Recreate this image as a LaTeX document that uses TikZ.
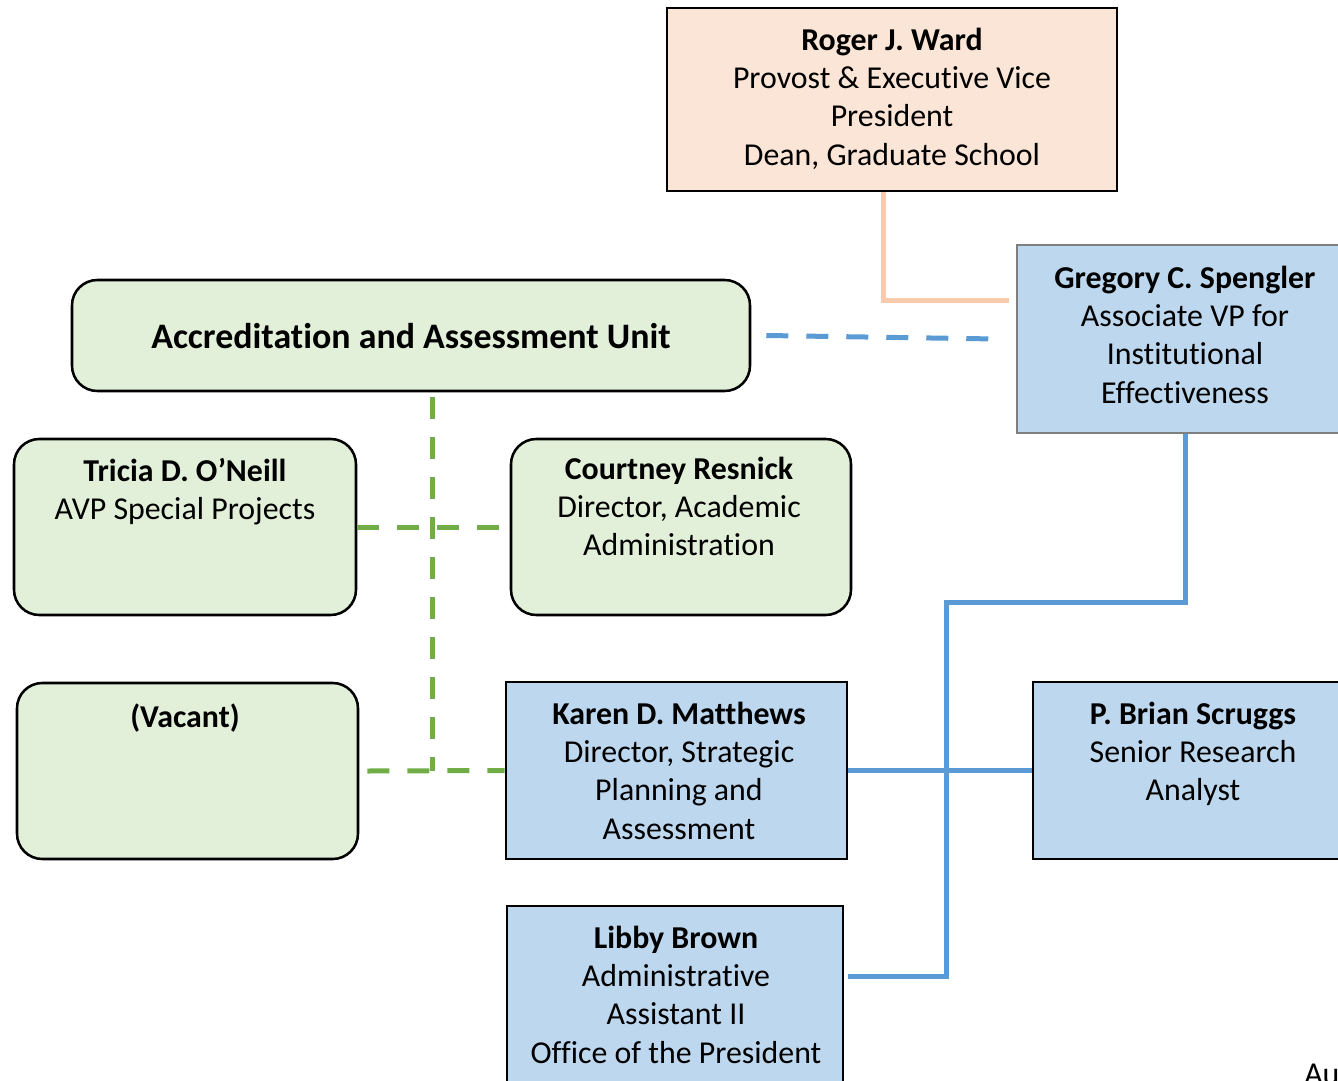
\documentclass[tikz,border=0pt]{standalone}
\usepackage{fontspec}
\setmainfont[Ligatures=NoCommon]{Carlito}
\usepackage{tikz}
\usetikzlibrary{positioning}

\definecolor{peachfill}{HTML}{FBE5D6}
\definecolor{peachline}{HTML}{F8CBAD}
\definecolor{bluefill}{HTML}{BDD7EE}
\definecolor{blueline}{HTML}{5B9BD5}
\definecolor{greenfill}{HTML}{E2F0D9}
\definecolor{greenline}{HTML}{70AD47}
\definecolor{grayline}{HTML}{7F7F7F}

\tikzset{
    box/.style={draw=black, line width=1.9pt, inner sep=0pt},
    peachbox/.style={box, fill=peachfill},
    bluebox/.style={box, fill=bluefill},
    greenbox/.style={box, fill=greenfill, rounded corners=19pt},
    txt/.style={inner sep=0pt, align=center, anchor=north,
        font=\fontsize{23.9pt}{28.6pt}\selectfont},
    solidlink/.style={line width=3.75pt},
    dashlink/.style={line width=3.75pt, dash pattern=on 16.5pt off 13.5pt},
}

\begin{document}
\begin{tikzpicture}[x=0.75pt, y=-0.75pt]

        \useasboundingbox (0,0) rectangle (1338,1081);
        \clip (0,0) rectangle (1338,1081);

        % boxes
        \node[peachbox, minimum width=337.5pt, minimum height=137.25pt] (ward) at (892,99.5) {};
        \node[bluebox, draw=grayline, minimum width=252pt, minimum height=141pt] (spengler) at (1185,339) {};
        \node[greenbox, minimum width=508.5pt, minimum height=83.25pt] (accr) at (411,335.5) {};
        \node[greenbox, minimum width=256.5pt, minimum height=132pt] (oneill) at (185,527) {};
        \node[greenbox, minimum width=255pt, minimum height=132pt] (resnick) at (681,527) {};
        \node[greenbox, minimum width=255.75pt, minimum height=132pt] (vacant) at (187.5,771) {};
        \node[bluebox, minimum width=255.75pt, minimum height=132.75pt] (matthews) at (676.5,770.5) {};
        \node[bluebox, minimum width=240pt, minimum height=132.75pt] (scruggs) at (1193,770.5) {};
        \node[bluebox, minimum width=252pt, minimum height=138pt] (brown) at (675,998) {};

        % texts
        \node[txt] (wardT) at (892,28) {\textbf{Roger J. Ward}\\Provost \& Executive Vice\\President\\Dean, Graduate School};
        \node[txt] (spenglerT) at (1185,266) {\textbf{Gregory C. Spengler}\\Associate VP for\\Institutional\\Effectiveness};
        \node[txt, anchor=center, font=\fontsize{26.9pt}{32pt}\selectfont\bfseries] (accrT) at (411,336) {Accreditation and Assessment Unit};
        \node[txt] (oneillT) at (185,458) {\textbf{Tricia D. O’Neill}\\AVP Special Projects};
        \node[txt] (resnickT) at (679,457) {\textbf{Courtney Resnick}\\Director, Academic\\Administration};
        \node[txt] (vacantT) at (185,704) {\textbf{(Vacant)}};
        \node[txt] (matthewsT) at (679,702) {\textbf{Karen D. Matthews}\\Director, Strategic\\Planning and\\Assessment};
        \node[txt] (scruggsT) at (1193,702) {\textbf{P. Brian Scruggs}\\Senior Research\\Analyst};
        \node[txt] (brownT) at (676,926) {\textbf{Libby Brown}\\Administrative\\Assistant II\\Office of the President};
        \node[txt, anchor=north west] (dateT) at (1304,1064) {Au};

        % connectors
        \draw[solidlink, peachline] ([xshift=-6.75pt]ward.south) |- ([xshift=-5.25pt, yshift=29.25pt]spengler.west);
        \draw[dashlink, blueline] ([xshift=11.25pt]accr.east) -- ([xshift=-14.25pt]spengler.west);
        \coordinate (bend) at (946,602);
        \draw[solidlink, blueline] (spengler.south) |- (bend) |- ([xshift=3pt, yshift=16.5pt]brown.east);
        \draw[solidlink, blueline] (matthews.east) -- (scruggs.west);
        \coordinate (gjoin) at ([xshift=15.75pt]accr.south |- matthews.west);
        % \draw[dashlink, greenline] (accr.south) |- (matthews.west);
        \draw[dashlink, greenline] ([xshift=15.75pt, yshift=-3.75pt]accr.south) -- (gjoin);
        \draw[dashlink, greenline] ([xshift=6pt]vacant.east) -- (matthews.west);
        \draw[dashlink, greenline] (oneill.east) -- (resnick.west);

    \end{tikzpicture}
\end{document}
